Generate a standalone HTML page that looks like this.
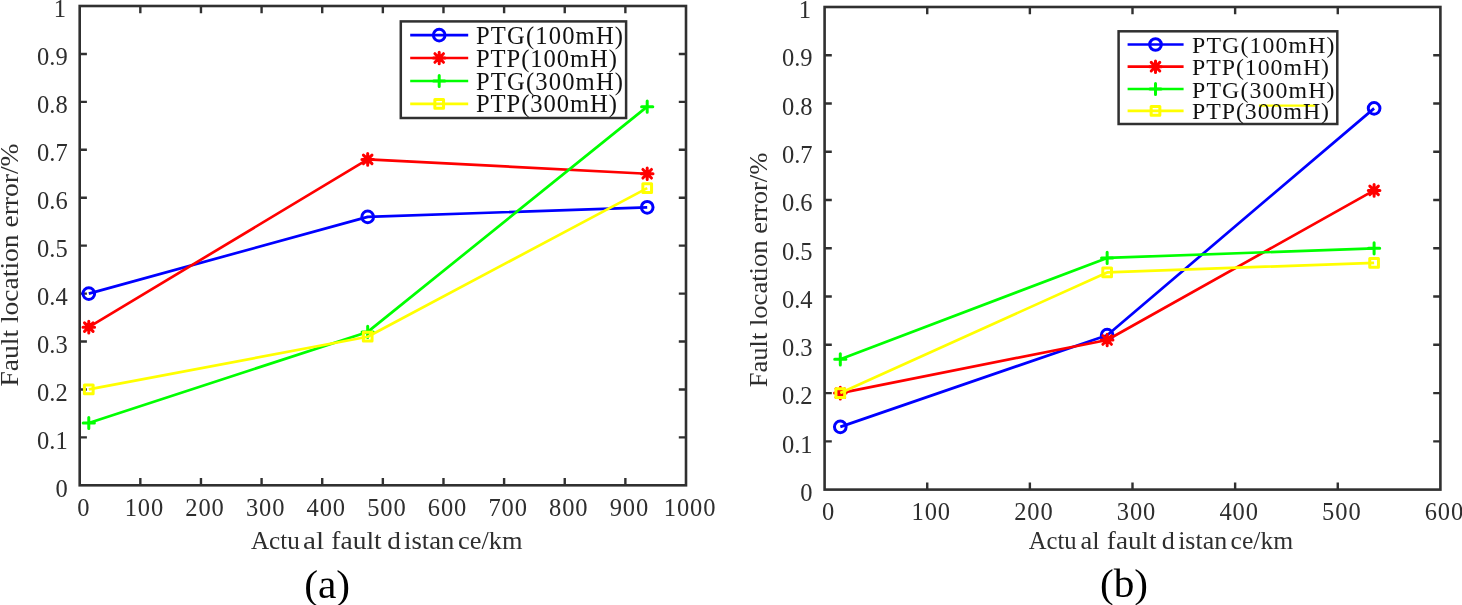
<!DOCTYPE html>
<html><head><meta charset="utf-8"><title>Fault location error</title>
<style>html,body{margin:0;padding:0;background:#fff;width:1462px;height:605px;overflow:hidden}svg{display:block;will-change:transform}</style>
</head><body>
<svg width="1462" height="605" viewBox="0 0 1462 605" font-family='"Liberation Serif", serif'>
<rect width="1462" height="605" fill="#fff"/>
<rect x="79.70" y="6.00" width="606.30" height="479.30" fill="none" stroke="#303030" stroke-width="2.6"/>
<text x="83.30" y="516.00" font-size="24.5" text-anchor="middle" fill="#2e2e2e">0</text>
<path d="M140.33 485.30V478.10M140.33 6.00V13.20" stroke="#303030" stroke-width="2.4"/>
<text x="124.65" y="516.00" font-size="24.5" fill="#2e2e2e" textLength="38.55" lengthAdjust="spacing">100</text>
<path d="M200.96 485.30V478.10M200.96 6.00V13.20" stroke="#303030" stroke-width="2.4"/>
<text x="185.28" y="516.00" font-size="24.5" fill="#2e2e2e" textLength="38.55" lengthAdjust="spacing">200</text>
<path d="M261.59 485.30V478.10M261.59 6.00V13.20" stroke="#303030" stroke-width="2.4"/>
<text x="245.91" y="516.00" font-size="24.5" fill="#2e2e2e" textLength="38.55" lengthAdjust="spacing">300</text>
<path d="M322.22 485.30V478.10M322.22 6.00V13.20" stroke="#303030" stroke-width="2.4"/>
<text x="306.55" y="516.00" font-size="24.5" fill="#2e2e2e" textLength="38.55" lengthAdjust="spacing">400</text>
<path d="M382.85 485.30V478.10M382.85 6.00V13.20" stroke="#303030" stroke-width="2.4"/>
<text x="367.18" y="516.00" font-size="24.5" fill="#2e2e2e" textLength="38.55" lengthAdjust="spacing">500</text>
<path d="M443.48 485.30V478.10M443.48 6.00V13.20" stroke="#303030" stroke-width="2.4"/>
<text x="427.81" y="516.00" font-size="24.5" fill="#2e2e2e" textLength="38.55" lengthAdjust="spacing">600</text>
<path d="M504.11 485.30V478.10M504.11 6.00V13.20" stroke="#303030" stroke-width="2.4"/>
<text x="488.44" y="516.00" font-size="24.5" fill="#2e2e2e" textLength="38.55" lengthAdjust="spacing">700</text>
<path d="M564.74 485.30V478.10M564.74 6.00V13.20" stroke="#303030" stroke-width="2.4"/>
<text x="549.07" y="516.00" font-size="24.5" fill="#2e2e2e" textLength="38.55" lengthAdjust="spacing">800</text>
<path d="M625.37 485.30V478.10M625.37 6.00V13.20" stroke="#303030" stroke-width="2.4"/>
<text x="609.70" y="516.00" font-size="24.5" fill="#2e2e2e" textLength="38.55" lengthAdjust="spacing">900</text>
<text x="663.75" y="516.00" font-size="24.5" fill="#2e2e2e" textLength="51.70" lengthAdjust="spacing">1000</text>
<text x="67.70" y="496.50" font-size="24.5" text-anchor="end" fill="#2e2e2e">0</text>
<path d="M79.70 437.37H86.90M686.00 437.37H678.80" stroke="#303030" stroke-width="2.4"/>
<text x="67.70" y="448.57" font-size="24.5" text-anchor="end" fill="#2e2e2e">0.1</text>
<path d="M79.70 389.44H86.90M686.00 389.44H678.80" stroke="#303030" stroke-width="2.4"/>
<text x="67.70" y="400.64" font-size="24.5" text-anchor="end" fill="#2e2e2e">0.2</text>
<path d="M79.70 341.51H86.90M686.00 341.51H678.80" stroke="#303030" stroke-width="2.4"/>
<text x="67.70" y="352.71" font-size="24.5" text-anchor="end" fill="#2e2e2e">0.3</text>
<path d="M79.70 293.58H86.90M686.00 293.58H678.80" stroke="#303030" stroke-width="2.4"/>
<text x="67.70" y="304.78" font-size="24.5" text-anchor="end" fill="#2e2e2e">0.4</text>
<path d="M79.70 245.65H86.90M686.00 245.65H678.80" stroke="#303030" stroke-width="2.4"/>
<text x="67.70" y="256.85" font-size="24.5" text-anchor="end" fill="#2e2e2e">0.5</text>
<path d="M79.70 197.72H86.90M686.00 197.72H678.80" stroke="#303030" stroke-width="2.4"/>
<text x="67.70" y="208.92" font-size="24.5" text-anchor="end" fill="#2e2e2e">0.6</text>
<path d="M79.70 149.79H86.90M686.00 149.79H678.80" stroke="#303030" stroke-width="2.4"/>
<text x="67.70" y="160.99" font-size="24.5" text-anchor="end" fill="#2e2e2e">0.7</text>
<path d="M79.70 101.86H86.90M686.00 101.86H678.80" stroke="#303030" stroke-width="2.4"/>
<text x="67.70" y="113.06" font-size="24.5" text-anchor="end" fill="#2e2e2e">0.8</text>
<path d="M79.70 53.93H86.90M686.00 53.93H678.80" stroke="#303030" stroke-width="2.4"/>
<text x="67.70" y="65.13" font-size="24.5" text-anchor="end" fill="#2e2e2e">0.9</text>
<text x="66.10" y="17.20" font-size="24.5" text-anchor="end" fill="#2e2e2e">1</text>
<polyline points="88.79,293.58 367.69,216.89 647.20,207.31" fill="none" stroke="#0000ff" stroke-width="2.7" stroke-linejoin="round"/>
<circle cx="88.79" cy="293.58" r="5.85" fill="none" stroke="#0000ff" stroke-width="3"/>
<circle cx="367.69" cy="216.89" r="5.85" fill="none" stroke="#0000ff" stroke-width="3"/>
<circle cx="647.20" cy="207.31" r="5.85" fill="none" stroke="#0000ff" stroke-width="3"/>
<polyline points="88.79,327.13 367.69,159.38 647.20,173.75" fill="none" stroke="#ff0000" stroke-width="2.7" stroke-linejoin="round"/>
<path d="M82.99 327.13H94.59M88.79 321.33V332.93M84.50 322.84L93.09 331.42M84.50 331.42L93.09 322.84" stroke="#ff0000" stroke-width="3" stroke-linecap="round" fill="none"/>
<path d="M361.89 159.38H373.49M367.69 153.58V165.18M363.40 155.08L371.98 163.67M363.40 163.67L371.98 155.08" stroke="#ff0000" stroke-width="3" stroke-linecap="round" fill="none"/>
<path d="M641.40 173.75H653.00M647.20 167.95V179.56M642.90 169.46L651.49 178.05M642.90 178.05L651.49 169.46" stroke="#ff0000" stroke-width="3" stroke-linecap="round" fill="none"/>
<polyline points="88.79,422.99 367.69,331.92 647.20,106.65" fill="none" stroke="#00ff00" stroke-width="2.7" stroke-linejoin="round"/>
<path d="M83.19 422.99H94.39M88.79 417.39V428.59" stroke="#00ff00" stroke-width="3" stroke-linecap="round" fill="none"/>
<path d="M362.09 331.92H373.29M367.69 326.32V337.52" stroke="#00ff00" stroke-width="3" stroke-linecap="round" fill="none"/>
<path d="M641.60 106.65H652.80M647.20 101.05V112.25" stroke="#00ff00" stroke-width="3" stroke-linecap="round" fill="none"/>
<polyline points="88.79,389.44 367.69,336.72 647.20,188.13" fill="none" stroke="#ffff00" stroke-width="2.7" stroke-linejoin="round"/>
<rect x="84.44" y="385.09" width="8.70" height="8.70" fill="none" stroke="#ffff00" stroke-width="3" stroke-linejoin="round"/>
<rect x="363.34" y="332.37" width="8.70" height="8.70" fill="none" stroke="#ffff00" stroke-width="3" stroke-linejoin="round"/>
<rect x="642.85" y="183.78" width="8.70" height="8.70" fill="none" stroke="#ffff00" stroke-width="3" stroke-linejoin="round"/>
<text x="250.95" y="548.70" font-size="25" fill="#2e2e2e" textLength="48.88" lengthAdjust="spacingAndGlyphs">Actu</text>
<text x="302.97" y="548.70" font-size="25" fill="#2e2e2e" textLength="21.11" lengthAdjust="spacingAndGlyphs">al</text>
<text x="331.36" y="548.70" font-size="25" fill="#2e2e2e" textLength="50.31" lengthAdjust="spacingAndGlyphs">fault</text>
<text x="387.22" y="548.70" font-size="25" fill="#2e2e2e" textLength="13.62" lengthAdjust="spacingAndGlyphs">d</text>
<text x="404.04" y="548.70" font-size="25" fill="#2e2e2e" textLength="50.26" lengthAdjust="spacingAndGlyphs">istan</text>
<text x="457.99" y="548.70" font-size="25" fill="#2e2e2e" textLength="64.52" lengthAdjust="spacingAndGlyphs">ce/km</text>
<text transform="translate(17.60,386.49) rotate(-90)" x="0" y="0" font-size="24.8" fill="#2e2e2e" textLength="243.03" lengthAdjust="spacingAndGlyphs">Fault location error/%</text>
<text x="304.18" y="597.60" font-size="40" fill="#000" textLength="45.94" lengthAdjust="spacingAndGlyphs">(a)</text>
<rect x="400.80" y="21.40" width="225.30" height="96.60" fill="#fff" stroke="#303030" stroke-width="2.5"/>
<path d="M410.20 35.10H468.20" stroke="#0000ff" stroke-width="2.7"/>
<circle cx="439.20" cy="35.10" r="5.85" fill="none" stroke="#0000ff" stroke-width="3"/>
<text x="476.00" y="43.70" font-size="24.6" fill="#111" textLength="147.00" lengthAdjust="spacing">PTG(100mH)</text>
<path d="M410.20 58.00H468.20" stroke="#ff0000" stroke-width="2.7"/>
<path d="M433.40 58.00H445.00M439.20 52.20V63.80M434.91 53.71L443.49 62.29M434.91 62.29L443.49 53.71" stroke="#ff0000" stroke-width="3" stroke-linecap="round" fill="none"/>
<text x="476.00" y="66.60" font-size="24.6" fill="#111" textLength="141.00" lengthAdjust="spacing">PTP(100mH)</text>
<path d="M410.20 81.00H468.20" stroke="#00ff00" stroke-width="2.7"/>
<path d="M433.60 81.00H444.80M439.20 75.40V86.60" stroke="#00ff00" stroke-width="3" stroke-linecap="round" fill="none"/>
<text x="476.00" y="89.60" font-size="24.6" fill="#111" textLength="147.00" lengthAdjust="spacing">PTG(300mH)</text>
<path d="M410.20 103.80H468.20" stroke="#ffff00" stroke-width="2.7"/>
<rect x="434.85" y="99.45" width="8.70" height="8.70" fill="none" stroke="#ffff00" stroke-width="3" stroke-linejoin="round"/>
<text x="476.00" y="112.40" font-size="24.6" fill="#111" textLength="141.00" lengthAdjust="spacing">PTP(300mH)</text>
<rect x="824.60" y="7.00" width="615.80" height="482.60" fill="none" stroke="#303030" stroke-width="2.6"/>
<text x="828.20" y="520.10" font-size="24.5" text-anchor="middle" fill="#2e2e2e">0</text>
<path d="M927.23 489.60V482.40M927.23 7.00V14.20" stroke="#303030" stroke-width="2.4"/>
<text x="911.56" y="520.10" font-size="24.5" fill="#2e2e2e" textLength="38.55" lengthAdjust="spacing">100</text>
<path d="M1029.87 489.60V482.40M1029.87 7.00V14.20" stroke="#303030" stroke-width="2.4"/>
<text x="1014.19" y="520.10" font-size="24.5" fill="#2e2e2e" textLength="38.55" lengthAdjust="spacing">200</text>
<path d="M1132.50 489.60V482.40M1132.50 7.00V14.20" stroke="#303030" stroke-width="2.4"/>
<text x="1116.82" y="520.10" font-size="24.5" fill="#2e2e2e" textLength="38.55" lengthAdjust="spacing">300</text>
<path d="M1235.13 489.60V482.40M1235.13 7.00V14.20" stroke="#303030" stroke-width="2.4"/>
<text x="1219.46" y="520.10" font-size="24.5" fill="#2e2e2e" textLength="38.55" lengthAdjust="spacing">400</text>
<path d="M1337.77 489.60V482.40M1337.77 7.00V14.20" stroke="#303030" stroke-width="2.4"/>
<text x="1322.09" y="520.10" font-size="24.5" fill="#2e2e2e" textLength="38.55" lengthAdjust="spacing">500</text>
<text x="1424.72" y="520.10" font-size="24.5" fill="#2e2e2e" textLength="38.55" lengthAdjust="spacing">600</text>
<text x="812.60" y="500.80" font-size="24.5" text-anchor="end" fill="#2e2e2e">0</text>
<path d="M824.60 441.34H831.80M1440.40 441.34H1433.20" stroke="#303030" stroke-width="2.4"/>
<text x="812.60" y="452.54" font-size="24.5" text-anchor="end" fill="#2e2e2e">0.1</text>
<path d="M824.60 393.08H831.80M1440.40 393.08H1433.20" stroke="#303030" stroke-width="2.4"/>
<text x="812.60" y="404.28" font-size="24.5" text-anchor="end" fill="#2e2e2e">0.2</text>
<path d="M824.60 344.82H831.80M1440.40 344.82H1433.20" stroke="#303030" stroke-width="2.4"/>
<text x="812.60" y="356.02" font-size="24.5" text-anchor="end" fill="#2e2e2e">0.3</text>
<path d="M824.60 296.56H831.80M1440.40 296.56H1433.20" stroke="#303030" stroke-width="2.4"/>
<text x="812.60" y="307.76" font-size="24.5" text-anchor="end" fill="#2e2e2e">0.4</text>
<path d="M824.60 248.30H831.80M1440.40 248.30H1433.20" stroke="#303030" stroke-width="2.4"/>
<text x="812.60" y="259.50" font-size="24.5" text-anchor="end" fill="#2e2e2e">0.5</text>
<path d="M824.60 200.04H831.80M1440.40 200.04H1433.20" stroke="#303030" stroke-width="2.4"/>
<text x="812.60" y="211.24" font-size="24.5" text-anchor="end" fill="#2e2e2e">0.6</text>
<path d="M824.60 151.78H831.80M1440.40 151.78H1433.20" stroke="#303030" stroke-width="2.4"/>
<text x="812.60" y="162.98" font-size="24.5" text-anchor="end" fill="#2e2e2e">0.7</text>
<path d="M824.60 103.52H831.80M1440.40 103.52H1433.20" stroke="#303030" stroke-width="2.4"/>
<text x="812.60" y="114.72" font-size="24.5" text-anchor="end" fill="#2e2e2e">0.8</text>
<path d="M824.60 55.26H831.80M1440.40 55.26H1433.20" stroke="#303030" stroke-width="2.4"/>
<text x="812.60" y="66.46" font-size="24.5" text-anchor="end" fill="#2e2e2e">0.9</text>
<text x="811.00" y="18.20" font-size="24.5" text-anchor="end" fill="#2e2e2e">1</text>
<polyline points="840.30,426.86 1107.15,335.17 1374.10,108.35" fill="none" stroke="#0000ff" stroke-width="2.7" stroke-linejoin="round"/>
<circle cx="840.30" cy="426.86" r="5.85" fill="none" stroke="#0000ff" stroke-width="3"/>
<circle cx="1107.15" cy="335.17" r="5.85" fill="none" stroke="#0000ff" stroke-width="3"/>
<circle cx="1374.10" cy="108.35" r="5.85" fill="none" stroke="#0000ff" stroke-width="3"/>
<polyline points="840.30,393.08 1107.15,339.99 1374.10,190.39" fill="none" stroke="#ff0000" stroke-width="2.7" stroke-linejoin="round"/>
<path d="M834.50 393.08H846.10M840.30 387.28V398.88M836.01 388.79L844.59 397.37M836.01 397.37L844.59 388.79" stroke="#ff0000" stroke-width="3" stroke-linecap="round" fill="none"/>
<path d="M1101.35 339.99H1112.95M1107.15 334.19V345.79M1102.86 335.70L1111.44 344.29M1102.86 344.29L1111.44 335.70" stroke="#ff0000" stroke-width="3" stroke-linecap="round" fill="none"/>
<path d="M1368.30 190.39H1379.90M1374.10 184.59V196.19M1369.81 186.10L1378.39 194.68M1369.81 194.68L1378.39 186.10" stroke="#ff0000" stroke-width="3" stroke-linecap="round" fill="none"/>
<polyline points="840.30,359.30 1107.15,257.95 1374.10,248.30" fill="none" stroke="#00ff00" stroke-width="2.7" stroke-linejoin="round"/>
<path d="M834.70 359.30H845.90M840.30 353.70V364.90" stroke="#00ff00" stroke-width="3" stroke-linecap="round" fill="none"/>
<path d="M1101.55 257.95H1112.75M1107.15 252.35V263.55" stroke="#00ff00" stroke-width="3" stroke-linecap="round" fill="none"/>
<path d="M1368.50 248.30H1379.70M1374.10 242.70V253.90" stroke="#00ff00" stroke-width="3" stroke-linecap="round" fill="none"/>
<polyline points="840.30,393.08 1107.15,272.43 1374.10,262.78" fill="none" stroke="#ffff00" stroke-width="2.7" stroke-linejoin="round"/>
<rect x="835.95" y="388.73" width="8.70" height="8.70" fill="none" stroke="#ffff00" stroke-width="3" stroke-linejoin="round"/>
<rect x="1102.80" y="268.08" width="8.70" height="8.70" fill="none" stroke="#ffff00" stroke-width="3" stroke-linejoin="round"/>
<rect x="1369.75" y="258.43" width="8.70" height="8.70" fill="none" stroke="#ffff00" stroke-width="3" stroke-linejoin="round"/>
<text x="1028.76" y="548.60" font-size="25" fill="#2e2e2e" textLength="47.86" lengthAdjust="spacingAndGlyphs">Actu</text>
<text x="1080.47" y="548.60" font-size="25" fill="#2e2e2e" textLength="19.06" lengthAdjust="spacingAndGlyphs">al</text>
<text x="1106.86" y="548.60" font-size="25" fill="#2e2e2e" textLength="49.80" lengthAdjust="spacingAndGlyphs">fault</text>
<text x="1161.86" y="548.60" font-size="25" fill="#2e2e2e" textLength="13.06" lengthAdjust="spacingAndGlyphs">d</text>
<text x="1178.16" y="548.60" font-size="25" fill="#2e2e2e" textLength="48.94" lengthAdjust="spacingAndGlyphs">istan</text>
<text x="1230.62" y="548.60" font-size="25" fill="#2e2e2e" textLength="62.58" lengthAdjust="spacingAndGlyphs">ce/km</text>
<text transform="translate(767.00,387.37) rotate(-90)" x="0" y="0" font-size="24.8" fill="#2e2e2e" textLength="234.77" lengthAdjust="spacingAndGlyphs">Fault location error/%</text>
<text x="1099.99" y="597.40" font-size="40" fill="#000" textLength="48.02" lengthAdjust="spacingAndGlyphs">(b)</text>
<rect x="1118.60" y="31.30" width="218.70" height="92.70" fill="#fff" stroke="#303030" stroke-width="2.5"/>
<path d="M1259.00 105.60H1315.00" stroke="#ffff00" stroke-width="2.4"/>
<path d="M1127.60 44.50H1183.60" stroke="#0000ff" stroke-width="2.7"/>
<circle cx="1155.50" cy="44.50" r="5.85" fill="none" stroke="#0000ff" stroke-width="3"/>
<text x="1192.00" y="53.10" font-size="23.8" fill="#111" textLength="142.50" lengthAdjust="spacing">PTG(100mH)</text>
<path d="M1127.60 66.70H1183.60" stroke="#ff0000" stroke-width="2.7"/>
<path d="M1149.70 66.70H1161.30M1155.50 60.90V72.50M1151.21 62.41L1159.79 70.99M1151.21 70.99L1159.79 62.41" stroke="#ff0000" stroke-width="3" stroke-linecap="round" fill="none"/>
<text x="1192.00" y="75.30" font-size="23.8" fill="#111" textLength="137.00" lengthAdjust="spacing">PTP(100mH)</text>
<path d="M1127.60 89.00H1183.60" stroke="#00ff00" stroke-width="2.7"/>
<path d="M1149.90 89.00H1161.10M1155.50 83.40V94.60" stroke="#00ff00" stroke-width="3" stroke-linecap="round" fill="none"/>
<text x="1192.00" y="97.60" font-size="23.8" fill="#111" textLength="142.50" lengthAdjust="spacing">PTG(300mH)</text>
<path d="M1127.60 110.80H1183.60" stroke="#ffff00" stroke-width="2.7"/>
<rect x="1151.15" y="106.45" width="8.70" height="8.70" fill="none" stroke="#ffff00" stroke-width="3" stroke-linejoin="round"/>
<text x="1192.00" y="119.40" font-size="23.8" fill="#111" textLength="137.00" lengthAdjust="spacing">PTP(300mH)</text>
</svg>
</body></html>
